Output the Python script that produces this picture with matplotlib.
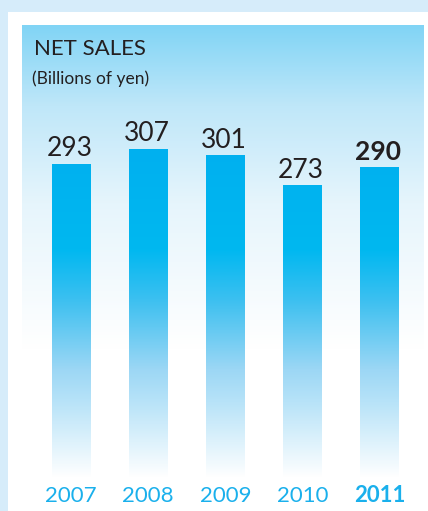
import matplotlib
matplotlib.use("Agg")
import matplotlib.pyplot as plt
import numpy as np
from matplotlib.colors import LinearSegmentedColormap
from matplotlib.patches import Rectangle

years = ["2007", "2008", "2009", "2010", "2011"]
sales = [293, 307, 301, 273, 290]
highlight = "2011"

W, H = 428, 511
fig = plt.figure(figsize=(W / 100, H / 100), dpi=100)
fig.patch.set_facecolor("#d6ecfa")

# white panel
fig.add_artist(Rectangle((8 / W, 0), 1, (H - 12) / H, transform=fig.transFigure,
                         facecolor="white", edgecolor="none", zorder=0))

# light blue gradient header panel
bg = fig.add_axes([22 / W, (H - 350) / H, (424 - 22) / W, (350 - 25) / H])
bg_cmap = LinearSegmentedColormap.from_list("bg", [(0, "#ffffff"), (0.45, "#e6f5fc"),
                                                   (0.75, "#bfe7f9"), (1, "#80d4f5")])
bg.imshow(np.linspace(0, 1, 256).reshape(-1, 1), aspect="auto", cmap=bg_cmap,
          origin="lower", extent=(0, 1, 0, 1))
bg.axis("off")

# bar axes
ymax = (478 - 25) / 1.072
ax = fig.add_axes([32.5 / W, (H - 478) / H, 385.5 / W, 453 / H])
ax.set_xlim(-0.5, 4.5)
ax.set_ylim(0, ymax)
ax.axis("off")

bar_cmap = LinearSegmentedColormap.from_list("bar", [
    (0.0, "#ffffff"), (73 / 330, "#b5e2f8"), (101 / 330, "#9cd7f5"),
    (166 / 330, "#3cc0f0"), (213 / 330, "#00b8f0"), (1.0, "#00aeef")])
grad = np.linspace(0, 1, 256).reshape(-1, 1)

bars = ax.bar(range(len(years)), sales, width=0.5, color="none", edgecolor="none")
for b in bars:
    im = ax.imshow(grad, aspect="auto", cmap=bar_cmap, origin="lower",
                   extent=(-0.5, 4.5, 0, 330), zorder=2)
    im.set_clip_path(b)
ax.set_ylim(0, ymax)
ax.set_xlim(-0.5, 4.5)

font = "Lato"
for i, (yr, v) in enumerate(zip(years, sales)):
    bold = yr == highlight
    ax.text(i - 0.02, v + 7, str(v), ha="center", va="baseline", fontsize=19,
            family=font, fontweight="bold" if bold else "normal", color="#231f20")
    ax.text(i, -22.4, yr, ha="center", va="baseline", fontsize=16,
            family=font, fontweight="bold" if bold else "normal", color="#1ab0ec")

fig.text(34 / W, (H - 55) / H, "NET SALES", fontsize=16, family=font,
         fontweight="normal", color="#231f20", va="baseline")
fig.text(32 / W, (H - 84) / H, "(Billions of yen)", fontsize=12.5, family=font,
         fontweight="normal", color="#231f20", va="baseline")

fig.savefig("out.png", dpi=100, facecolor=fig.get_facecolor())
